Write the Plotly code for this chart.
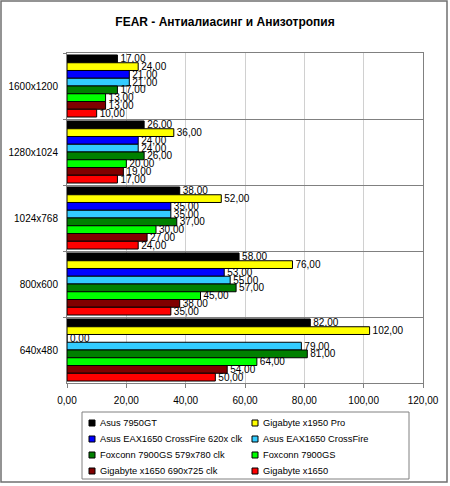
import plotly.graph_objects as go

categories = ["1600x1200", "1280x1024", "1024x768", "800x600", "640x480"]
series_names = [
    "Asus 7950GT",
    "Gigabyte x1950 Pro",
    "Asus EAX1650 CrossFire 620x clk",
    "Asus EAX1650 CrossFire",
    "Foxconn 7900GS 579x780 clk",
    "Foxconn 7900GS",
    "Gigabyte x1650 690x725 clk",
    "Gigabyte x1650",
]
asus_7950gt = [17, 26, 38, 58, 82]
gigabyte_x1950pro = [24, 36, 52, 76, 102]
asus_eax1650_cf_clk = [21, 24, 35, 53, 0]
asus_eax1650_cf = [21, 24, 35, 55, 79]
foxconn_7900gs_clk = [17, 26, 37, 57, 81]
foxconn_7900gs = [13, 20, 30, 45, 64]
gigabyte_x1650_clk = [13, 19, 27, 38, 54]
gigabyte_x1650 = [10, 17, 24, 35, 50]
series_values = [asus_7950gt, gigabyte_x1950pro, asus_eax1650_cf_clk, asus_eax1650_cf,
                 foxconn_7900gs_clk, foxconn_7900gs, gigabyte_x1650_clk, gigabyte_x1650]
colors = ["#000000", "#FFFF00", "#0000FF", "#33CCFF", "#008000", "#00FF00", "#800000", "#FF0000"]

FONT = "Liberation Sans, Arial, sans-serif"

fig = go.Figure()
for name, vals, col in zip(series_names, series_values, colors):
    fig.add_trace(go.Bar(
        y=categories, x=vals, name=name, orientation="h", showlegend=False,
        marker=dict(color=col, line=dict(color="#000000", width=1)),
        text=[f"{v:.2f}".replace(".", ",") for v in vals],
        textposition="outside", cliponaxis=False, constraintext="none",
        textfont=dict(family=FONT, size=10, color="#000000"),
    ))

L, R, T, B = 67, 27, 53, 103
W, H = 450, 486
pw, ph = W - L - R, H - T - B


def px_x(p):
    return (p - L) / pw


def px_y(p):
    return (T + ph - p) / ph


shapes = [
    # outer frame
    dict(type="rect", xref="paper", yref="paper",
         x0=px_x(1), x1=px_x(447), y0=px_y(482), y1=px_y(1),
         line=dict(color="#707070", width=1.5), layer="below"),
    # legend box
    dict(type="rect", xref="paper", yref="paper",
         x0=px_x(82), x1=px_x(409), y0=px_y(479), y1=px_y(412),
         line=dict(color="#808080", width=1), fillcolor="white", layer="below"),
]
annotations = []
col_swatch = [89, 252]
col_text = [98, 261]
row_y = [423, 439, 455, 471]
for i, (name, col) in enumerate(zip(series_names, colors)):
    r, c = divmod(i, 2)
    sx, cy = col_swatch[c], row_y[r]
    shapes.append(dict(type="rect", xref="paper", yref="paper",
                       x0=px_x(sx), x1=px_x(sx + 6), y0=px_y(cy + 3), y1=px_y(cy - 3),
                       fillcolor=col, line=dict(color="#000000", width=1)))
    annotations.append(dict(xref="paper", yref="paper", x=px_x(col_text[c]), y=px_y(cy),
                            xanchor="left", yanchor="middle", showarrow=False, text=name,
                            font=dict(family=FONT, size=9.3, color="#000000")))

fig.update_layout(
    width=W, height=H,
    margin=dict(l=L, r=R, t=T, b=B, pad=0, autoexpand=False),
    paper_bgcolor="white", plot_bgcolor="white",
    separators=", ",
    barmode="group", bargap=0.06, bargroupgap=0,
    font=dict(family=FONT, size=10, color="#000000"),
    title=dict(text="<b>FEAR - Антиалиасинг и Анизотропия</b>",
               x=0.5, xanchor="center", y=1 - 22 / H, yanchor="middle",
               yref="container", font=dict(size=12, family=FONT)),
    xaxis=dict(range=[0, 120], dtick=20, tickformat=".2f",
               showgrid=True, gridcolor="#D0D0D0", gridwidth=1,
               showline=True, linecolor="#808080", mirror=True, linewidth=1,
               ticks="outside", ticklen=4, tickcolor="#808080",
               ticklabelstandoff=4,
               tickfont=dict(size=10), zeroline=False),
    yaxis=dict(autorange="reversed", type="category",
               tickson="boundaries", showgrid=True, gridcolor="#808080", gridwidth=1,
               showline=True, linecolor="#808080", mirror=True, linewidth=1,
               ticks="outside", ticklen=3, tickcolor="#808080",
               ticklabelstandoff=6,
               tickfont=dict(size=10)),
    showlegend=False,
    shapes=shapes,
    annotations=annotations,
)

fig.write_html("out.html")
